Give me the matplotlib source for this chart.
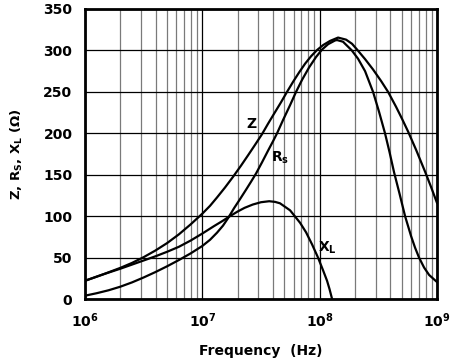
import numpy as np
import matplotlib
matplotlib.use("Agg")
import matplotlib.pyplot as plt
from matplotlib.ticker import FixedLocator, NullFormatter

plt.rcParams['font.family'] = ['DejaVu Sans']
plt.rcParams['font.weight'] = 'bold'
plt.rcParams['mathtext.fontset'] = 'custom'
plt.rcParams['mathtext.rm'] = 'DejaVu Sans:bold'
plt.rcParams['mathtext.it'] = 'DejaVu Sans:bold'
plt.rcParams['mathtext.bf'] = 'DejaVu Sans:bold'
plt.rcParams['mathtext.default'] = 'rm'

# log10(frequency / Hz) and impedance values (ohm)
z_logf = [6.00, 6.15, 6.30, 6.40, 6.50, 6.60, 6.70, 6.80, 6.90, 7.00,
          7.066, 7.125, 7.193, 7.262, 7.330, 7.390, 7.449, 7.509, 7.560, 7.611,
          7.671, 7.722, 7.773, 7.825, 7.876, 7.927, 7.978, 8.030, 8.089, 8.157,
          8.225, 8.276, 8.319, 8.387, 8.455, 8.524, 8.583, 8.651, 8.702, 8.754,
          8.822, 8.899, 8.950, 9.00]
z_vals = [22, 29.5, 37.5, 43.5, 50.5, 58.5, 67.5, 78, 90, 103,
          112.5, 122.5, 134.5, 147.5, 161, 173.5, 186, 199, 211.5, 223.5,
          237.5, 250, 262, 273.5, 284, 293, 300.5, 306.5, 311.5, 315.5,
          313, 308, 301, 289.5, 277, 263, 250, 232, 217.5, 202,
          180, 153.5, 135, 116]

rs_logf = [6.00, 6.10, 6.20, 6.30, 6.40, 6.50, 6.60, 6.70, 6.80, 6.90, 7.00,
           7.066, 7.125, 7.176, 7.219, 7.270, 7.321, 7.373, 7.415, 7.458, 7.509,
           7.560, 7.603, 7.637, 7.688, 7.748, 7.799, 7.850, 7.910, 7.969, 8.020,
           8.072, 8.131, 8.148, 8.199, 8.274, 8.327, 8.387, 8.455, 8.506, 8.557,
           8.596, 8.634, 8.681, 8.728, 8.779, 8.813, 8.847, 8.890, 8.933, 9.00]
rs_vals = [4, 7, 10.5, 14.8, 20, 26, 32.5, 39.5, 47, 55, 64,
           71.5, 80, 88.5, 97.5, 109.5, 120.5, 132, 141.5, 151.5, 165,
           179, 190.5, 200, 216, 234, 250, 264.5, 279.5, 292, 301,
           307.5, 312, 312.5, 310.5, 300, 290, 275, 250, 226, 200,
           177, 153, 127, 100, 76, 62, 50, 38, 29, 20.5]

xl_logf = [6.00, 6.15, 6.30, 6.40, 6.50, 6.60, 6.70, 6.80, 6.90, 7.00,
           7.10, 7.17, 7.23, 7.30, 7.36, 7.43, 7.50, 7.57, 7.62, 7.662,
           7.748, 7.833, 7.884, 7.935, 7.986, 8.028, 8.063, 8.084, 8.106]
xl_vals = [22, 29.5, 36.5, 41.5, 46.5, 51.5, 57, 63, 70.5, 79,
           88, 94, 99.5, 105.5, 110, 114, 116.8, 118, 117.2, 115.5,
           107, 92, 80.5, 66, 50, 35, 22, 12, 0]

y_ticks = [0, 50, 100, 150, 200, 250, 300, 350]
x_ticks = [1e6, 1e7, 1e8, 1e9]
x_ticklabels = ['10$^{6}$', '10$^{7}$', '10$^{8}$', '10$^{9}$']

fig = plt.figure(figsize=(4.56, 3.58), dpi=100)
ax = fig.add_axes([0.1864, 0.1648, 0.7719, 0.8101])

for lf, v in [(z_logf, z_vals), (rs_logf, rs_vals), (xl_logf, xl_vals)]:
    ax.plot(10 ** np.array(lf), v, color='black', lw=1.6,
            solid_joinstyle='round', clip_on=True, zorder=3)

ax.set_xscale('log')
ax.set_xlim(1e6, 1e9)
ax.set_ylim(0, 350)
ax.set_yticks(y_ticks)
ax.set_xticks(x_ticks)
ax.set_xticklabels(x_ticklabels)
minor = [m * 10 ** e for e in range(6, 9) for m in range(2, 10)]
ax.xaxis.set_minor_locator(FixedLocator(minor))
ax.xaxis.set_minor_formatter(NullFormatter())

ax.grid(True, which='major', axis='both', color='black', lw=0.9)
ax.grid(True, which='minor', axis='x', color='#7a7a7a', lw=0.9)
ax.set_axisbelow(True)

ax.tick_params(which='both', length=0)
ax.tick_params(axis='y', pad=9, labelsize=10)
ax.tick_params(axis='x', pad=9, labelsize=10)
for s in ax.spines.values():
    s.set_linewidth(2.0)
    s.set_zorder(4)

ax.set_xlabel('Frequency  (Hz)', fontsize=10, fontweight='bold', labelpad=10)
ax.set_ylabel('Z, R$_{S}$, X$_{L}$ ($\\Omega$)', fontsize=9.5, fontweight='bold',
              labelpad=13)

ax.text(10 ** 7.415, 211, 'Z', fontsize=10, fontweight='bold', ha='center', va='center')
ax.text(10 ** 7.66, 170, 'R$_{s}$', fontsize=10, fontweight='bold', ha='center', va='center')
ax.text(10 ** 8.07, 62, 'X$_{L}$', fontsize=10, fontweight='bold', ha='center', va='center')

fig.savefig('out.png', dpi=100)
